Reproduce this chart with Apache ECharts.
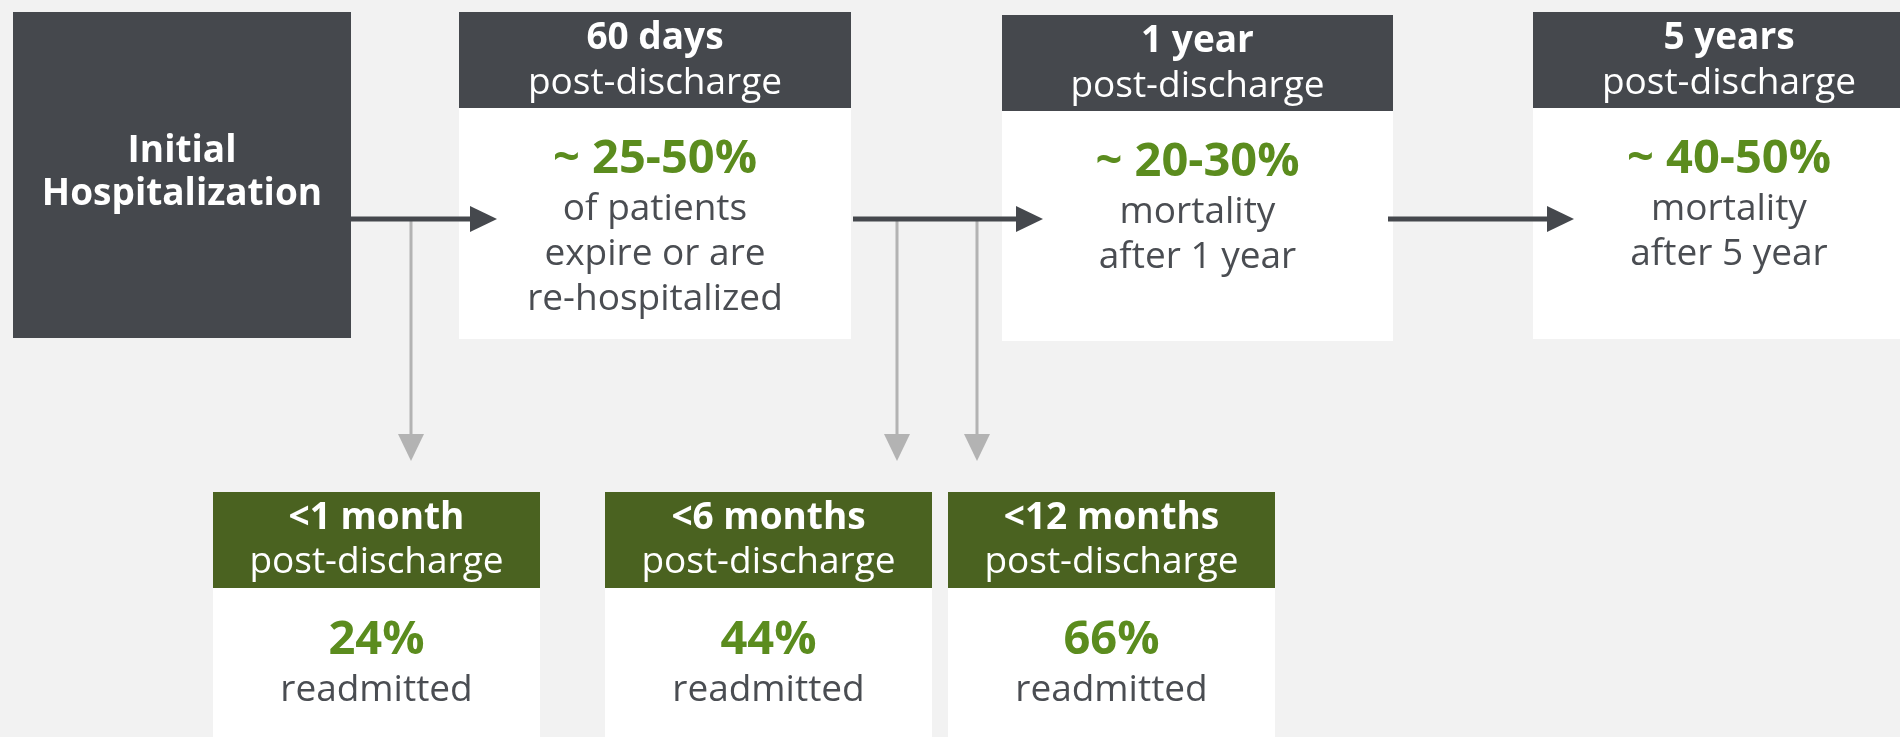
<!DOCTYPE html>
<html>
<head>
<meta charset="utf-8">
<script src="https://cdn.jsdelivr.net/npm/echarts@6/dist/echarts.min.js"></script>
<style>
html,body{margin:0;padding:0;background:#f2f2f2;}
#chart{width:1900px;height:737px;}
</style>
</head>
<body>
<div id="chart"></div>
<script>
// ---------- data ----------
const startLabel = ['Initial', 'Hospitalization'];
const topStages = ['60 days', '1 year', '5 years'];
const topSub = 'post-discharge';
const topValues = ['~ 25-50%', '~ 20-30%', '~ 40-50%'];
const topDesc = [
  ['of patients', 'expire or are', 're-hospitalized'],
  ['mortality', 'after 1 year'],
  ['mortality', 'after 5 year']
];
const bottomStages = ['<1 month', '<6 months', '<12 months'];
const bottomSub = 'post-discharge';
const bottomValues = ['24%', '44%', '66%'];
const bottomDesc = 'readmitted';

// ---------- layout (pixel space of the hidden axes) ----------
const layout = {
  start: { x0: 13, x1: 351, y0: 12, y1: 338, base: [161, 204] },
  top: [
    { x0: 459, x1: 851, y0: 12, y1: 339 },
    { x0: 1002, x1: 1393, y0: 15, y1: 341 },
    { x0: 1533, x1: 1925, y0: 12, y1: 339 }
  ],
  topHeadH: 96,
  topBase: [36, 81, 160, 207, 252, 297],
  bottom: [
    { x0: 213, x1: 540 },
    { x0: 605, x1: 932 },
    { x0: 948, x1: 1275 }
  ],
  bottomY0: 492, bottomY1: 760, bottomHeadH: 96,
  bottomBase: [36, 80, 161, 208],
  darkArrows: [[351, 497], [853, 1043], [1388, 1574]],
  arrowY: 219,
  grayArrows: [411, 897, 977],
  grayTip: 461
};
const style = {
  bg: '#f2f2f2', dark: '#45484d', greenHead: '#4a6220', greenText: '#5b8c1e',
  body: '#4a4d52', gray: '#b3b3b3', white: '#ffffff',
  font: '"Open Sans", "Noto Sans", sans-serif', fs: 37, fsBig: 47, k: 0.26
};

function txt(api, x, baseline, str, size, weight, color) {
  const p = api.coord([x, baseline - style.k * size]);
  return {
    type: 'text',
    style: {
      x: p[0], y: p[1], text: str, fill: color,
      font: weight + ' ' + size + 'px ' + style.font,
      align: 'center', verticalAlign: 'middle'
    }
  };
}
function rect(api, x0, y0, x1, y1, color) {
  const a = api.coord([x0, y0]), b = api.coord([x1, y1]);
  return { type: 'rect', shape: { x: a[0], y: a[1], width: b[0] - a[0], height: b[1] - a[1] }, style: { fill: color } };
}

const chart = echarts.init(document.getElementById('chart'));
chart.setOption({
  animation: false,
  backgroundColor: style.bg,
  grid: { left: 0, right: 0, top: 0, bottom: 0 },
  xAxis: { type: 'value', min: 0, max: 1900, show: false },
  yAxis: { type: 'value', min: 0, max: 737, inverse: true, show: false },
  series: [
    // gray arrows (down)
    {
      type: 'custom', z: 1,
      data: layout.grayArrows.map((x, i) => [i]),
      renderItem: function (params, api) {
        const i = api.value(0);
        const x = layout.grayArrows[i];
        const a = api.coord([x, layout.arrowY]);
        const t = api.coord([x, layout.grayTip]);
        return {
          type: 'group', children: [
            { type: 'line', shape: { x1: a[0], y1: a[1], x2: t[0], y2: t[1] - 20 }, style: { stroke: style.gray, lineWidth: 3 } },
            { type: 'polygon', shape: { points: [[t[0] - 13, t[1] - 27], [t[0] + 13, t[1] - 27], [t[0], t[1]]] }, style: { fill: style.gray } }
          ]
        };
      }
    },
    // initial box
    {
      type: 'custom', z: 3,
      data: [[0]],
      renderItem: function (params, api) {
        const L = layout.start;
        const cx = (L.x0 + L.x1) / 2;
        return {
          type: 'group', children: [
            rect(api, L.x0, L.y0, L.x1, L.y1, style.dark),
            txt(api, cx, L.base[0], startLabel[0], style.fs, 'bold', style.white),
            txt(api, cx, L.base[1], startLabel[1], style.fs, 'bold', style.white)
          ]
        };
      }
    },
    // top stage boxes
    {
      type: 'custom', z: 3,
      data: topStages.map((s, i) => [i]),
      renderItem: function (params, api) {
        const i = api.value(0);
        const L = layout.top[i];
        const cx = (L.x0 + L.x1) / 2;
        const B = layout.topBase;
        const ch = [
          rect(api, L.x0, L.y0 + layout.topHeadH, L.x1, L.y1, style.white),
          rect(api, L.x0, L.y0, L.x1, L.y0 + layout.topHeadH, style.dark),
          txt(api, cx, L.y0 + B[0], topStages[i], style.fs, 'bold', style.white),
          txt(api, cx, L.y0 + B[1], topSub, style.fs, 'normal', style.white),
          txt(api, cx, L.y0 + B[2], topValues[i], style.fsBig, 'bold', style.greenText)
        ];
        topDesc[i].forEach((line, j) => {
          ch.push(txt(api, cx, L.y0 + B[3 + j], line, style.fs, 'normal', style.body));
        });
        return { type: 'group', children: ch };
      }
    },
    // bottom readmission boxes
    {
      type: 'custom', z: 3,
      data: bottomStages.map((s, i) => [i]),
      renderItem: function (params, api) {
        const i = api.value(0);
        const L = layout.bottom[i];
        const y0 = layout.bottomY0;
        const cx = (L.x0 + L.x1) / 2;
        const B = layout.bottomBase;
        return {
          type: 'group', children: [
            rect(api, L.x0, y0 + layout.bottomHeadH, L.x1, layout.bottomY1, style.white),
            rect(api, L.x0, y0, L.x1, y0 + layout.bottomHeadH, style.greenHead),
            txt(api, cx, y0 + B[0], bottomStages[i], style.fs, 'bold', style.white),
            txt(api, cx, y0 + B[1], bottomSub, style.fs, 'normal', style.white),
            txt(api, cx, y0 + B[2], bottomValues[i], style.fsBig, 'bold', style.greenText),
            txt(api, cx, y0 + B[3], bottomDesc, style.fs, 'normal', style.body)
          ]
        };
      }
    },
    // dark arrows (right), drawn over the boxes
    {
      type: 'custom', z: 5,
      data: layout.darkArrows.map((d, i) => [i]),
      renderItem: function (params, api) {
        const d = layout.darkArrows[api.value(0)];
        const s = api.coord([d[0], layout.arrowY]);
        const t = api.coord([d[1], layout.arrowY]);
        return {
          type: 'group', children: [
            { type: 'line', shape: { x1: s[0], y1: s[1], x2: t[0] - 20, y2: t[1] }, style: { stroke: style.dark, lineWidth: 5 } },
            { type: 'polygon', shape: { points: [[t[0] - 27, t[1] - 13], [t[0] - 27, t[1] + 13], [t[0], t[1]]] }, style: { fill: style.dark } }
          ]
        };
      }
    }
  ]
});
</script>
</body>
</html>
